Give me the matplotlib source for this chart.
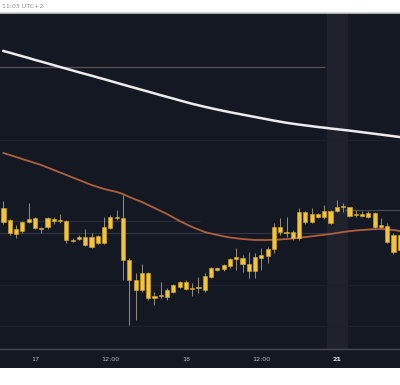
import numpy as np
import matplotlib.pyplot as plt
from matplotlib.patches import Rectangle

# hourly candles (arbitrary price units)
opens = [292, 280, 271, 269, 278, 282, 272, 273, 281, 279,
         279, 260, 261, 263, 253, 264, 257, 272, 283, 282,
         240, 220, 210, 227, 202, 204, 203, 208, 213, 218,
         211, 212, 210, 223, 230, 231, 234, 241, 242, 236,
         229, 242, 244, 251, 273, 268, 268, 262, 288, 278,
         286, 283, 289, 289, 293, 293, 285, 286, 283, 287,
         273, 274, 265, 250]
closes = [278, 267, 266, 278, 281, 272, 271, 282, 279, 280,
          260, 259, 263, 255, 263, 257, 273, 283, 282, 240,
          220, 210, 227, 202, 204, 205, 210, 215, 218, 211,
          212, 213, 224, 232, 232, 235, 241, 243, 236, 229,
          243, 245, 251, 273, 268, 267, 262, 288, 278, 286,
          283, 289, 277, 293, 294, 284, 286, 284, 287, 273,
          275, 258, 248, 265]
highs = [299, 281, 275, 279, 297, 283, 273, 283, 283, 286,
         280, 262, 265, 271, 267, 265, 283, 285, 290, 305,
         242, 227, 236, 228, 208, 218, 212, 216, 219, 220,
         217, 223, 227, 233, 233, 236, 242, 252, 245, 248,
         247, 252, 253, 277, 282, 283, 270, 292, 289, 292,
         287, 295, 290, 300, 297, 293, 290, 289, 289, 288,
         282, 277, 267, 267]
lows = [276, 265, 262, 267, 277, 271, 267, 271, 276, 277,
        257, 258, 260, 254, 252, 256, 256, 271, 280, 220,
        175, 180, 208, 200, 195, 202, 200, 207, 212, 210,
        204, 207, 208, 222, 229, 229, 232, 230, 228, 222,
        222, 230, 237, 247, 265, 263, 260, 260, 276, 277,
        282, 281, 276, 288, 288, 283, 283, 283, 282, 272,
        272, 257, 246, 249]

# slow moving average (white) and faster one (orange)
ma_slow = [449, 447.3, 445.5, 443.7, 442, 440.1, 438.4, 436.6, 434.8, 433,
           431.3, 429.5, 427.7, 426, 424.3, 422.5, 420.8, 419, 417.2, 415.4,
           413.6, 411.9, 410.1, 408.4, 406.6, 404.8, 403.1, 401.4, 399.6, 397.9,
           396.2, 394.7, 393.2, 391.8, 390.4, 389.1, 387.8, 386.6, 385.4, 384.2,
           383, 381.8, 380.6, 379.4, 378.3, 377.2, 376.3, 375.4, 374.6, 373.8,
           373, 372.3, 371.5, 370.8, 370.1, 369.4, 368.6, 367.8, 367, 366.2,
           365.4, 364.6, 363.8, 363]
ma_fast = [347, 345, 343, 341, 339, 337, 335, 332.5, 330, 327.5,
           325, 322.5, 320, 317.5, 315, 313, 311, 309.5, 308, 306,
           303, 300.5, 298, 295, 292, 289, 286, 282.5, 279, 276,
           273, 270.5, 268, 266.5, 265, 263.7, 262.5, 261.7, 261, 260.5,
           260, 260, 260, 260.2, 260.5, 261, 261.5, 262.2, 263, 263.7,
           264.5, 265.2, 266, 267, 268, 268.8, 269.5, 270, 270.5, 270.8,
           271, 270.5, 270, 269]

tick_idx = [5, 17, 29, 41, 53]
tick_lbl = ['17', '12:00', '18', '12:00', '21']

bg = '#141823'
fig = plt.figure(figsize=(4.0, 3.85), dpi=100)
fig.patch.set_facecolor('white')
# dark strip under the plot for the time labels
fig.patches.append(Rectangle((0, 17 / 385), 1, 19 / 385, transform=fig.transFigure,
                             facecolor=bg, edgecolor='none', zorder=-5))
fig.add_artist(plt.Line2D([0, 1], [372.5 / 385] * 2, transform=fig.transFigure,
                          color='#c9ccd3', lw=1.2))
fig.text(0.005, 379 / 385, '11:03 UTC+2', fontsize=4.5, color='#8a8d94', va='center')

ax = fig.add_axes([0, 36 / 385, 1, 336 / 385])
ax.set_facecolor(bg)
x = np.arange(len(opens))
o = np.array(opens, float)
c = np.array(closes, float)

ax.axvspan(51.4, 54.6, color='#1f222d', zorder=0)
for lvl in [360, 215, 174]:
    ax.axhline(lvl, color='#1c202b', lw=0.8, zorder=1)
ax.hlines(433, -1, 51.1, color='#5d5252', lw=0.9, zorder=2)
ax.hlines(279, -1, 31.2, color='#2b2f3c', lw=0.8, zorder=2)
ax.hlines(267, -1, 51.9, color='#333745', lw=0.8, zorder=2)
ax.hlines(290, 54.3, 64, color='#4a4c55', lw=0.8, zorder=2)

ax.plot(x, ma_slow, color='#ececee', lw=1.8, zorder=3)
ax.plot(x, ma_fast, color='#b0603f', lw=1.3, zorder=3)

ax.vlines(x, lows, highs, color='#a9a290', lw=0.6, zorder=4)
body_h = np.maximum(np.abs(c - o), 1.3)
ax.bar(x, body_h, bottom=np.minimum(o, c), width=0.66, color='#f2c43c',
       edgecolor='#d8a826', linewidth=0.4, zorder=5)

ax.set_xlim(-0.556, 63.04)
ax.set_ylim(151, 487)
ax.set_yticks([])
ax.set_xticks(tick_idx)
ax.set_xticklabels(tick_lbl, fontsize=4.6, color='#b2b5be')
ax.get_xticklabels()[-1].set_fontweight('bold')
ax.get_xticklabels()[-1].set_color('#e6e7ea')
ax.tick_params(axis='x', length=0, pad=6)
for s in ['top', 'left', 'right']:
    ax.spines[s].set_visible(False)
ax.spines['bottom'].set_color('#454856')
ax.spines['bottom'].set_linewidth(1.0)

fig.savefig('out.png', dpi=100, facecolor='white')
